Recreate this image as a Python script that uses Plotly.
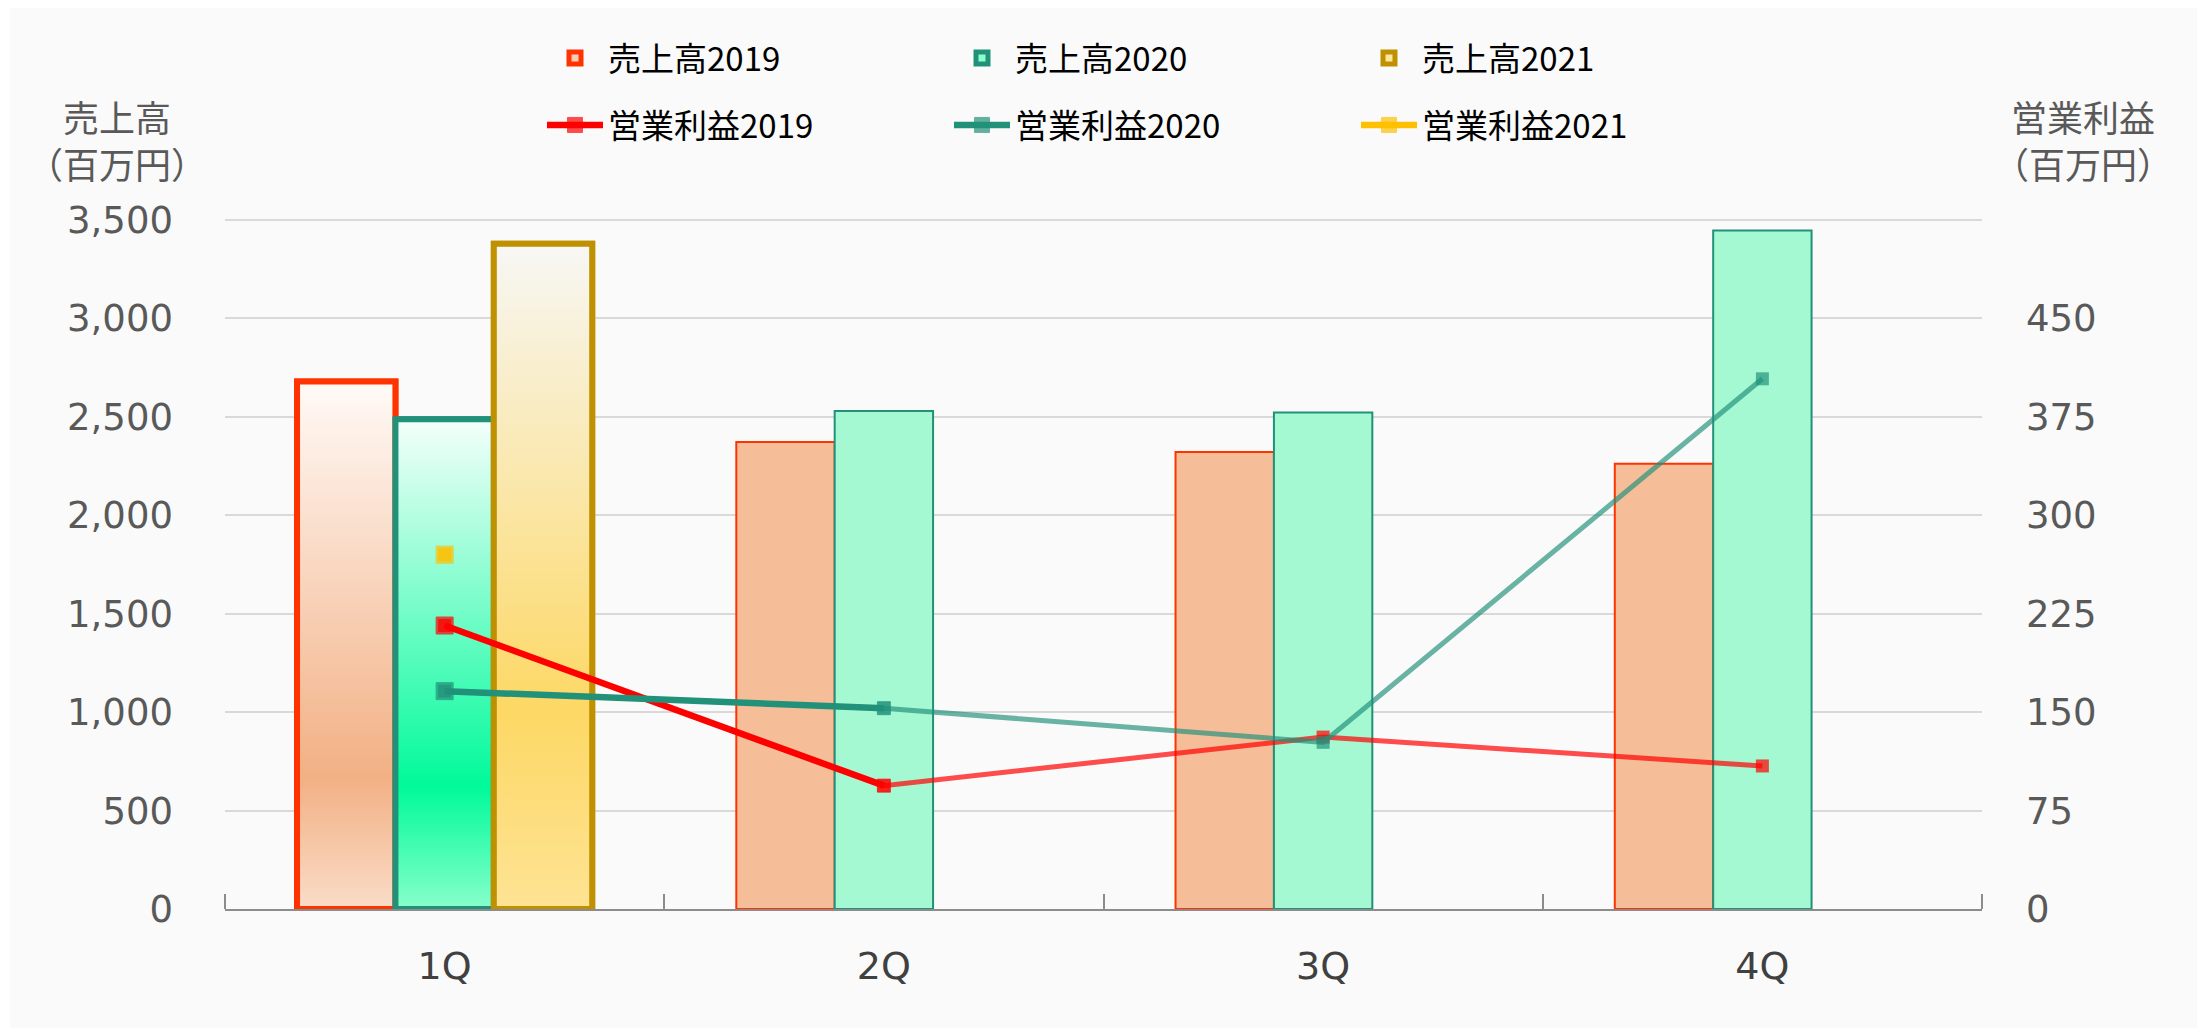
import plotly.graph_objects as go

# ---------------- data ----------------
quarters = ["1Q", "2Q", "3Q", "4Q"]
sales_2019 = [2680, 2372, 2322, 2262]
sales_2020 = [2488, 2530, 2522, 3447]
sales_2021 = [3379, None, None, None]
profit_2019 = [216, 94, 131, 109]
profit_2020 = [166, 153, 127, 404]
profit_2021 = [270, None, None, None]

sales_names = ["売上高2019", "売上高2020", "売上高2021"]
profit_names = ["営業利益2019", "営業利益2020", "営業利益2021"]
sales_ticks = [0, 500, 1000, 1500, 2000, 2500, 3000, 3500]
profit_ticks = [0, 75, 150, 225, 300, 375, 450]
sales_max = 3500
profit_max = 525

# ---------------- geometry (page pixels; the page body has an 8px margin) ----------------
OFF = 8
W, H = 2191, 1020
PLOT_L, PLOT_R, PLOT_T, PLOT_B = 225, 1982, 220, 909   # page coords of the plot frame
EXTRA = 3                                              # headroom so the top gridline shows
ML = PLOT_L - OFF
PW = PLOT_R - PLOT_L
MR = W - ML - PW
MT = PLOT_T - OFF - EXTRA
PH = PLOT_B - PLOT_T + EXTRA
MB = H - MT - PH
scale_top = (PLOT_B - PLOT_T + EXTRA) / (PLOT_B - PLOT_T)

BARGAP = 0.328
HI = 0  # highlighted quarter (1Q)


def px_x(p):
    return (p - OFF - ML) / PW


def px_y(p):
    return (MT + PH - (p - OFF)) / PH


bar_styles = [
    dict(fill="#f5be98", line="#ff3300", legend_fill="#f8cfb4",
         grad=[[0, "#fadcc8"], [0.25, "#f2b084"], [1, "#fffaf7"]]),
    dict(fill="#a5f9d2", line="#22917a", legend_fill="#8affcc",
         grad=[[0, "#88ffcb"], [0.25, "#00fa9a"], [1, "#f5fffb"]]),
    dict(fill="#fde28e", line="#bf9000", legend_fill="#fde7a0",
         grad=[[0, "#fee393"], [0.3, "#fdd865"], [1, "#f7f7f5"]]),
]
line_styles = [
    dict(full="#ff0000", light="rgba(255,0,0,0.70)"),
    dict(full="#22917a", light="rgba(34,145,122,0.68)"),
    dict(full="#ffc000", light="rgba(255,192,0,0.70)"),
]

xpos = list(range(len(quarters)))
fig = go.Figure()

# bars (main y axis)
sales = [sales_2019, sales_2020, sales_2021]
for k, (name, vals, st) in enumerate(zip(sales_names, sales, bar_styles)):
    fig.add_trace(go.Bar(
        x=xpos, y=vals, name=name, legend="legend",
        marker=dict(
            color=[st["legend_fill"] if i == HI else st["fill"] for i in xpos],
            line=dict(color=st["line"], width=[6 if i == HI else 2 for i in xpos]),
        ),
        hoverinfo="skip",
    ))

# gradient fill for the highlighted quarter (overlay y2, same scale)
nser = len(sales)
bw = (1 - BARGAP) / nser
for k, (vals, st) in enumerate(zip(sales, bar_styles)):
    v = vals[HI]
    if v is None:
        continue
    c = HI + (k - (nser - 1) / 2) * bw
    x0, x1 = c - bw / 2, c + bw / 2
    fig.add_trace(go.Scatter(
        x=[x0, x0, x1, x1, x0], y=[0, v, v, 0, 0],
        mode="lines", fill="toself",
        fillgradient=dict(type="vertical", colorscale=st["grad"]),
        line=dict(color=st["line"], width=6),
        yaxis="y2", showlegend=False, hoverinfo="skip",
    ))

# profit lines (right axis y3)
profits = [profit_2019, profit_2020, profit_2021]
for name, vals, st in zip(profit_names, profits, line_styles):
    fig.add_trace(go.Scatter(
        x=xpos, y=vals, mode="lines+markers",
        line=dict(color=st["light"], width=5),
        marker=dict(symbol="square", size=13, color=st["light"]),
        yaxis="y3", showlegend=False, hoverinfo="skip",
    ))
for name, vals, st in zip(profit_names, profits, line_styles):
    seg = vals[HI:HI + 2]
    fig.add_trace(go.Scatter(
        x=xpos[HI:HI + 2], y=seg, mode="lines+markers", name=name,
        line=dict(color=st["full"], width=6.5),
        marker=dict(symbol="square", size=[17, 13], color=[st["full"], st["light"]]),
        yaxis="y3", legend="legend2", hoverinfo="skip",
    ))

tick_font = dict(family="DejaVu Sans", size=37, color="#595959")
cjk = "Noto Sans CJK JP"
legend_common = dict(
    orientation="h", xanchor="left", yanchor="middle",
    font=dict(family=cjk, size=33, color="#000000"),
    itemwidth=56, entrywidth=336, entrywidthmode="pixels",
    bgcolor="rgba(0,0,0,0)", traceorder="normal",
)

fig.update_layout(
    width=W, height=H,
    margin=dict(l=ML, r=MR, t=MT, b=MB),
    paper_bgcolor="#ffffff", plot_bgcolor="#fafafa",
    barmode="group", bargap=BARGAP, bargroupgap=0,
    xaxis=dict(
        range=[-0.5, len(quarters) - 0.5],
        tickmode="array", tickvals=xpos, ticktext=quarters, ticks="",
        tickfont=dict(family="DejaVu Sans", size=38, color="#404040"),
        ticklabelstandoff=22,
        showline=True, linecolor="#8c8c8c", linewidth=2,
        showgrid=False, zeroline=False,
        minor=dict(tickmode="array", tickvals=[i - 0.5 for i in range(len(quarters) + 1)],
                   ticks="inside", ticklen=15, tickwidth=2, tickcolor="#8c8c8c", showgrid=False),
    ),
    yaxis=dict(
        range=[0, sales_max * scale_top], tickmode="array", tickvals=sales_ticks,
        tickformat=",", tickfont=tick_font, ticklabelstandoff=51,
        showgrid=True, gridcolor="#d9d9d9", gridwidth=2,
        zeroline=False, showline=False,
    ),
    yaxis2=dict(overlaying="y", matches="y", visible=False),
    yaxis3=dict(
        overlaying="y", side="right", range=[0, profit_max * scale_top],
        tickmode="array", tickvals=profit_ticks, tickfont=tick_font,
        ticklabelstandoff=43, showgrid=False, zeroline=False, showline=False,
    ),
    legend=dict(legend_common, x=px_x(542), y=px_y(58)),
    legend2=dict(legend_common, x=px_x(542), y=px_y(125)),
    shapes=[dict(
        type="rect", xref="paper", yref="paper", layer="below",
        x0=px_x(10), x1=px_x(2197), y0=px_y(1030), y1=px_y(0),
        fillcolor="#fafafa", line=dict(width=0),
    )],
    annotations=[
        dict(text="売上高<br>（百万円）", x=px_x(117), y=px_y(139), xref="paper", yref="paper",
             showarrow=False, xanchor="center", yanchor="middle", align="center",
             font=dict(family=cjk, size=36, color="#595959")),
        dict(text="営業利益<br>（百万円）", x=px_x(2083), y=px_y(139), xref="paper", yref="paper",
             showarrow=False, xanchor="center", yanchor="middle", align="center",
             font=dict(family=cjk, size=36, color="#595959")),
    ],
)

fig.write_html("out.html")
